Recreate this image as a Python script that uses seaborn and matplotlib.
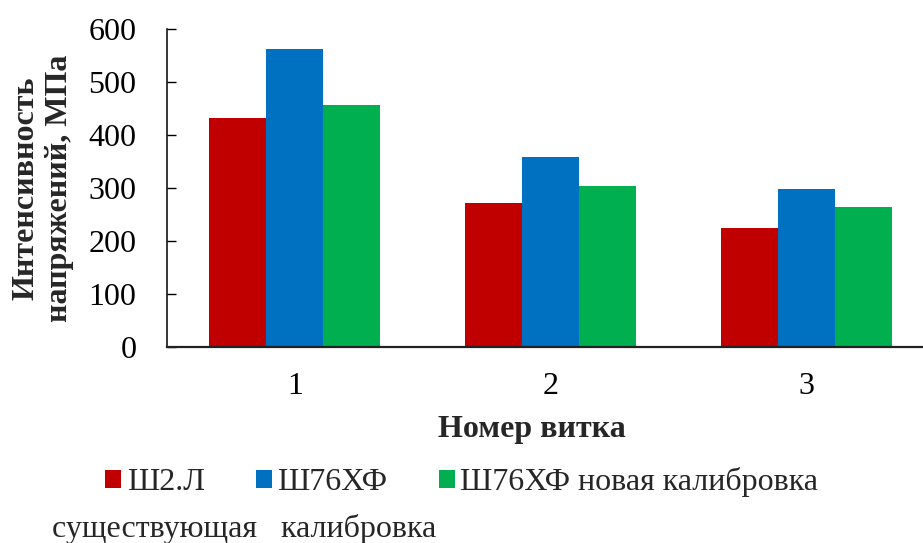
import matplotlib
matplotlib.use("Agg")
import matplotlib.pyplot as plt
from matplotlib.patches import Patch
import seaborn as sns
import pandas as pd

# Data
turns = ["1", "2", "3"]
series = ["Ш2.Л", "Ш76ХФ", "Ш76ХФ новая калибровка"]
sh2l = [432, 272, 225]
sh76 = [562, 358, 299]
sh76_new = [456, 304, 264]
colors = ["#C00000", "#0070C0", "#00B050"]
yticks = [0, 100, 200, 300, 400, 500, 600]

rows = []
for name, vals in zip(series, [sh2l, sh76, sh76_new]):
    for t, v in zip(turns, vals):
        rows.append({"turn": t, "series": name, "value": v})
df = pd.DataFrame(rows)

sns.set_theme(style="white")
plt.rcParams["font.family"] = ["Liberation Serif", "DejaVu Serif"]

FS = 23
W, H = 923, 543
fig = plt.figure(figsize=(W / 100, H / 100), dpi=100)
# axes spans slightly past the right edge of the canvas
ax = fig.add_axes([167 / W, 1 - 347 / H, 767 / W, 318 / H])

sns.barplot(data=df, x="turn", y="value", hue="series", order=turns,
            hue_order=series, palette=colors, width=0.67, saturation=1,
            legend=False, ax=ax, linewidth=0)

ax.set_xlim(-0.5, 2.5)
ax.set_ylim(0, 600)
ax.set_yticks(yticks)
ax.set_xlabel("")
ax.set_ylabel("")

for s in ["top", "right"]:
    ax.spines[s].set_visible(False)
ax.spines["left"].set_color("black")
ax.spines["left"].set_linewidth(1.1)
ax.spines["bottom"].set_color("#222222")
ax.spines["bottom"].set_linewidth(1.6)

ax.tick_params(axis="y", direction="in", length=6.7, width=1.0, color="black",
               pad=22, labelsize=FS, labelcolor="black", left=True)
ax.tick_params(axis="x", length=0, pad=18, labelsize=FS, labelcolor="black")

# axis titles
fig.text(43 / W, 1 - 188 / H, "Интенсивность\nнапряжений, МПа", rotation=90,
         ha="center", va="center", ma="center", fontsize=FS, fontweight="bold",
         linespacing=1.2)
fig.text(532 / W, 1 - 437 / H, "Номер витка", ha="center", va="baseline",
         fontsize=FS, fontweight="bold")

# legend
handles = [Patch(facecolor=c, edgecolor="none") for c in colors]
fig.legend(handles, series, ncol=3, loc="center left",
           bbox_to_anchor=(105 / W, 1 - 482 / H), frameon=False,
           fontsize=FS, handlelength=0.5, handleheight=0.5,
           handletextpad=0.18, columnspacing=1.6, borderpad=0,
           borderaxespad=0)
fig.text(52 / W, 1 - 537 / H, "существующая   калибровка", ha="left",
         va="baseline", fontsize=FS)

fig.savefig("out.png", dpi=100)
